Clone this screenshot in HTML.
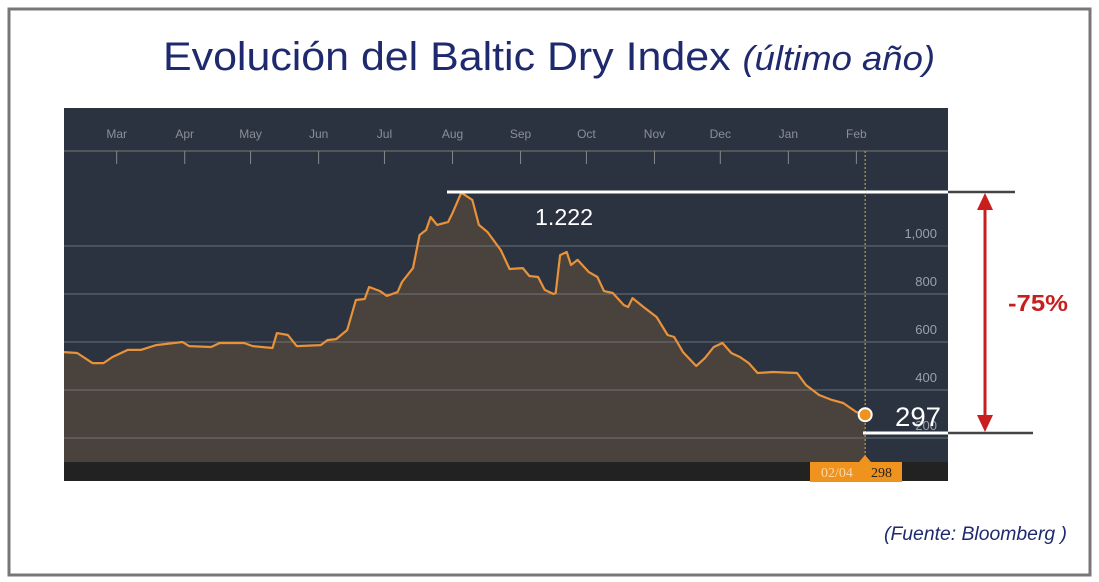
<!DOCTYPE html>
<html><head><meta charset="utf-8"><style>
html,body{margin:0;padding:0;background:#fff;}
svg{display:block;font-family:"Liberation Sans",sans-serif;}
</style></head><body>
<svg id="c" width="1099" height="582" viewBox="0 0 1099 582">
<rect x="9" y="9" width="1081" height="566" fill="#fff" stroke="#777" stroke-width="3"/>
<text x="163" y="70" font-size="40" fill="#1f2a6e" textLength="772" lengthAdjust="spacingAndGlyphs">Evolución del Baltic Dry Index <tspan font-style="italic" font-size="34">(último año)</tspan></text>
<rect x="64" y="108" width="884" height="373" fill="#2b3340"/>
<line x1="64" y1="151" x2="948" y2="151" stroke="#777" stroke-width="1"/>
<g id="area"></g>
<g id="grid"></g>
<rect x="64" y="462" width="884" height="19" fill="#222"/>
<g id="xaxis"></g>
<g id="yaxis"></g>
<g id="marks"></g>
<line x1="447" y1="192" x2="970" y2="192" stroke="#fff" stroke-width="3"/>
<line x1="948" y1="192" x2="1015" y2="192" stroke="#444" stroke-width="2.5"/>
<line x1="863" y1="433" x2="948" y2="433" stroke="#fff" stroke-width="3"/>
<line x1="948" y1="433" x2="1033" y2="433" stroke="#444" stroke-width="2.5"/>
<g>
<line x1="985" y1="204" x2="985" y2="421" stroke="#c81e1e" stroke-width="3"/>
<polygon points="985,193 977,210 993,210" fill="#c81e1e"/>
<polygon points="985,432 977,415 993,415" fill="#c81e1e"/>
</g>
<text x="1008" y="311" font-size="23" font-weight="bold" fill="#c81e1e" textLength="60" lengthAdjust="spacingAndGlyphs">-75%</text>
<text x="535" y="225" font-size="23" fill="#fff" textLength="58" lengthAdjust="spacingAndGlyphs">1.222</text>
<text x="895" y="426" font-size="27" fill="#fff" textLength="46" lengthAdjust="spacingAndGlyphs">297</text>
<g>
<polygon points="859,462 865,455 871,462" fill="#f0921e"/>
<rect x="810" y="462" width="92" height="20" fill="#f0921e"/>
<text x="821" y="477" font-size="14" font-family="Liberation Serif,serif" fill="#fbd9a8">02/04</text>
<text x="871" y="477" font-size="14" font-family="Liberation Serif,serif" fill="#222">298</text>
</g>
<text x="1067" y="540" font-size="19" font-style="italic" fill="#1f2a6e" text-anchor="end" textLength="183" lengthAdjust="spacingAndGlyphs">(Fuente: Bloomberg )</text>
</svg>
<script>
const days=[0,6,13,18,22,29,35,42,54,57,67,71,82,86,95,97,102,106,117,120,124,129,133,137,139,144,147,152,154,159,162,165,167,170,175,177,181,186,189,193,199,203,209,212,216,219,223,224,226,229,231,234,239,243,246,250,255,257,259,264,270,275,278,282,288,292,296,300,304,308,312,316,323,334,338,344,350,355,361,365];
const values=[558,554,512,512,537,567,567,587,600,583,579,596,596,583,575,637,629,583,587,608,612,650,775,779,829,812,792,808,850,908,1046,1067,1121,1088,1100,1137,1222,1192,1088,1058,983,904,908,875,871,817,800,804,962,975,921,942,892,871,812,804,754,746,783,746,704,629,621,558,500,533,579,596,554,537,512,471,475,471,421,379,358,346,308,297];
const monthLabels=["Mar","Apr","May","Jun","Jul","Aug","Sep","Oct","Nov","Dec","Jan","Feb"];
const monthDays=[24,55,85,116,146,177,208,238,269,299,330,361];
const yTicks=[200,400,600,800,1000];
const yTickLabels=["200","400","600","800","1,000"];
const NS="http://www.w3.org/2000/svg";
const X=d=>64+d*2.195;
const Y=v=>246+(1000-v)*0.24;
function mk(tag,attrs,parent){const e=document.createElementNS(NS,tag);for(const k in attrs)e.setAttribute(k,attrs[k]);document.getElementById(parent).appendChild(e);return e;}
yTicks.forEach((t,i)=>{
  const g=mk('line',{x1:64,x2:948,y1:Y(t),y2:Y(t),stroke:'#7b7f86','stroke-width':1,'stroke-opacity':0.8},'grid');
  
  
  const l=mk('text',{x:937,y:Y(t)-8,'font-size':13,fill:'#9aa0a8','text-anchor':'end'},'yaxis');
  l.textContent=yTickLabels[i];
  
  
});
monthLabels.forEach((m,i)=>{
  const x=X(monthDays[i]);
  const t=mk('text',{x:x,y:138,'font-size':12,fill:'#8a9098','text-anchor':'middle'},'xaxis');
  t.textContent=m;
  
  
  const k=mk('line',{x1:x,x2:x,y1:151,y2:164,stroke:'#888','stroke-width':1},'xaxis');
  
  
});
let pts=days.map((d,i)=>X(d).toFixed(1)+','+Y(values[i]).toFixed(1));
const area=mk('polygon',{points:X(days[0])+',462 '+pts.join(' ')+' '+X(days[days.length-1])+',462',fill:'#4a423d'},'area');


const line=mk('polyline',{points:pts.join(' '),fill:'none',stroke:'#e8923a','stroke-width':2.2,'stroke-linejoin':'round'},'marks');


const lx=X(days[days.length-1]);
const vl=mk('line',{x1:lx,x2:lx,y1:151,y2:462,stroke:'#b8a04a','stroke-width':1.2,'stroke-dasharray':'2,2'},'marks');


const dot=mk('circle',{cx:lx,cy:Y(values[values.length-1]),r:6.5,fill:'#f0921e',stroke:'#fff','stroke-width':2},'marks');


</script>
</body></html>
